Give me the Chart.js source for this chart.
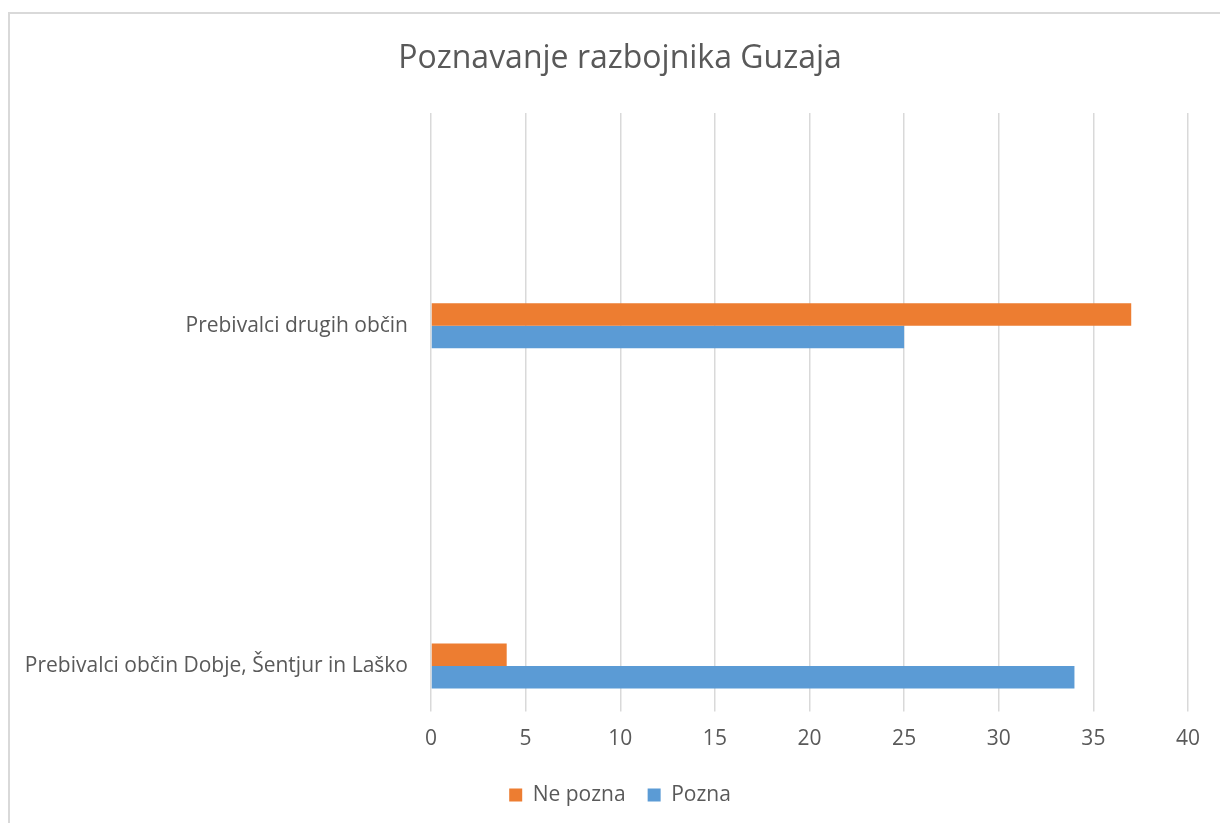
<!DOCTYPE html>
<html>
<head>
<meta charset="utf-8">
<script src="https://cdn.jsdelivr.net/npm/chart.js@4.4.1/dist/chart.umd.min.js"></script>
<style>
  html, body { margin: 0; padding: 0; background: #fff; overflow: hidden; width: 1220px; height: 823px; }
  #frame { position: absolute; left: 8px; top: 12px; width: 1224px; height: 830px; border: 2px solid #d9d9d9; box-sizing: border-box; }
  #wrap { position: absolute; left: 8px; top: 12px; width: 1224px; height: 811px; }
</style>
</head>
<body>
<div id="frame"></div>
<div id="wrap"><canvas id="c"></canvas></div>
<script>
const titleText = 'Poznavanje razbojnika Guzaja';
const categories = ['', '', 'Prebivalci drugih občin', '', '', '', 'Prebivalci občin Dobje, Šentjur in Laško'];
const seriesNames = ['Ne pozna', 'Pozna'];
const nePozna = [null, null, 37, null, null, null, 4];
const pozna = [null, null, 25, null, null, null, 34];
const xMin = 0, xMax = 40, xStep = 5;

const FONT = "'Open Sans', 'Noto Sans', sans-serif";
const TXT = '#595959';

new Chart(document.getElementById('c'), {
  type: 'bar',
  data: {
    labels: categories,
    datasets: [
      { label: seriesNames[0], data: nePozna, backgroundColor: '#ED7D31', borderWidth: 0 },
      { label: seriesNames[1], data: pozna, backgroundColor: '#5B9BD5', borderWidth: 0 }
    ]
  },
  options: {
    indexAxis: 'y',
    responsive: true,
    maintainAspectRatio: false,
    animation: false,
    datasets: { bar: { categoryPercentage: 0.528, barPercentage: 1.0 } },
    layout: { padding: { left: 0, right: 0, top: 0, bottom: 7.5 } },
    plugins: {
      title: {
        display: true, text: titleText, color: TXT,
        font: { family: FONT, size: 32, weight: 'normal' },
        padding: { top: 28, bottom: 34.6 }
      },
      legend: {
        position: 'bottom',
        labels: {
          color: TXT, font: { family: FONT, size: 21 },
          boxWidth: 13, boxHeight: 13, padding: 22
        }
      },
      tooltip: { enabled: false }
    },
    scales: {
      x: {
        min: xMin, max: xMax,
        ticks: { stepSize: xStep, color: TXT, font: { family: FONT, size: 21 }, padding: 15 },
        grid: { color: '#d9d9d9', lineWidth: 1.5, tickLength: 3, drawTicks: true },
        border: { display: false },
        afterFit: (s) => { s.height = 54; }
      },
      y: {
        ticks: { color: TXT, font: { family: FONT, size: 21 }, autoSkip: false, padding: 23 },
        grid: { display: false, drawTicks: false },
        border: { display: false },
        afterFit: (s) => { s.width = 423; }
      },
      yRight: {
        type: 'category', axis: 'y', position: 'right', display: true,
        ticks: { display: false },
        grid: { display: false, drawTicks: false },
        border: { display: false },
        afterFit: (s) => { s.width = 44; }
      }
    }
  }
});
</script>
</body>
</html>
